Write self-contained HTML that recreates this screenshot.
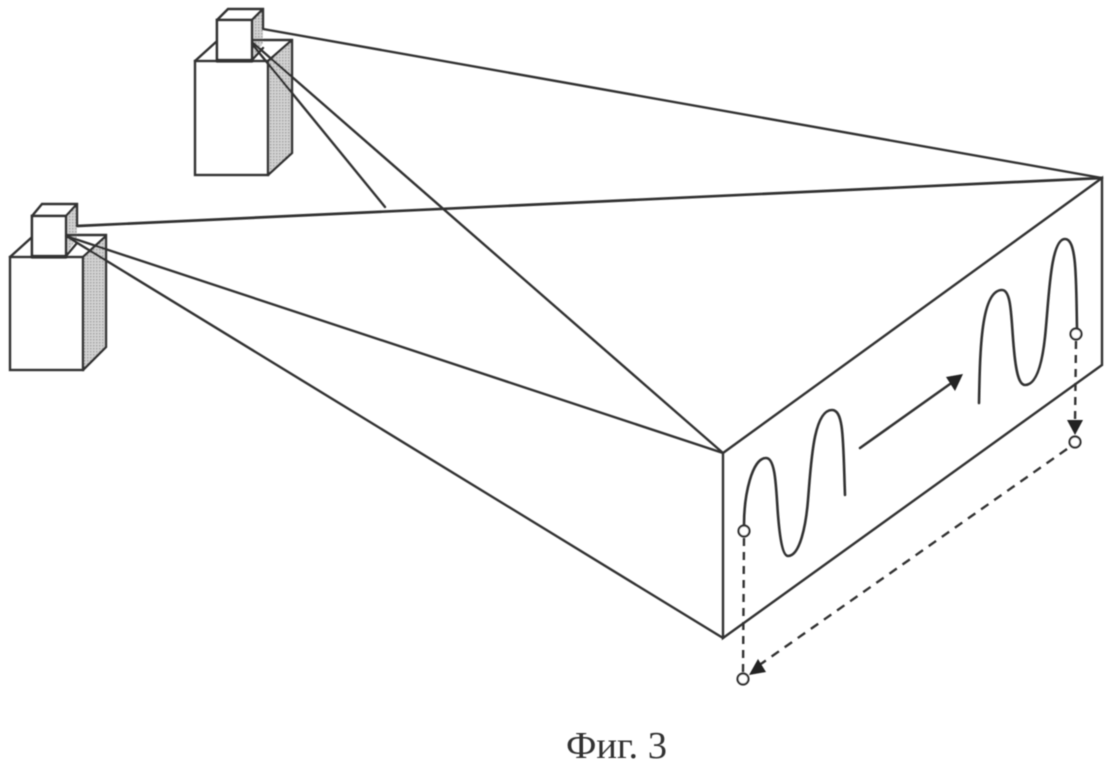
<!DOCTYPE html>
<html>
<head>
<meta charset="utf-8">
<style>
html,body{margin:0;padding:0;background:#fff;}
svg{display:block;}
</style>
</head>
<body>
<svg width="1114" height="771" viewBox="0 0 1114 771" xmlns="http://www.w3.org/2000/svg">
<defs>
<pattern id="d" width="3" height="3" patternUnits="userSpaceOnUse">
<rect width="3" height="3" fill="#d2d2d2"/>
<rect x="0" y="0" width="1.5" height="1.5" fill="#a4a4a4"/>
</pattern>
<filter id="b" filterUnits="userSpaceOnUse" x="0" y="0" width="1114" height="771"><feGaussianBlur stdDeviation="0.45"/></filter>
</defs>
<rect width="1114" height="771" fill="#fff"/>
<g filter="url(#b)">
<g fill="none" stroke="#333" stroke-width="2.4" stroke-linejoin="miter" stroke-linecap="round">
<!-- top camera -->
<polygon points="268,61 292,40 292,153 268,175" fill="url(#d)" stroke="none"/>
<polygon points="252,20 263,9 263,43 252,60" fill="url(#d)" stroke="none"/>
<path d="M195,61 L216,42 M252,40 H292 V153 L268,175 M268,61 L292,40"/>
<rect x="195" y="61" width="73" height="114"/>
<rect x="217" y="20" width="35" height="40" fill="#fff" stroke-width="2.7"/>
<path d="M217,20 L228,9 H263 V29 M252,20 L263,9 M252,60 L263,48"/>
<path d="M217,61 H252" stroke-width="3.2"/>

<!-- left camera -->
<polygon points="83,257 106,236 106,347 83,370" fill="url(#d)" stroke="none"/>
<polygon points="66,216 77,204 77,238 66,255" fill="url(#d)" stroke="none"/>
<path d="M10,257 L31,238 M66,235 H106 V347 L83,370 M83,257 L106,236"/>
<rect x="10" y="257" width="73" height="113"/>
<rect x="32" y="216" width="34" height="40" fill="#fff" stroke-width="2.7"/>
<path d="M32,216 L42,204 H77 V226 M66,216 L77,204 M66,256 L77,243"/>
<path d="M32,257 H66" stroke-width="3.2"/>

<!-- rays -->
<path d="M263,29 L1102,178"/>
<path d="M77,226 L1102,178" stroke-width="2.7"/>
<path d="M252,42 L723,453"/>
<path d="M252,44 L385,207"/>
<path d="M66,236 L723,453"/>
<path d="M66,236 L723,638"/>

<!-- big box -->
<path d="M723,453 L1102,178 V365 L723,638 Z"/>

<!-- curves -->
<path d="M744,525 C744,495 752,458 766,458 C776,458 776,490 778,515 C780,540 783,556 788,556 C800,556 806,525 808,500 C811,465 813,410 832,410 C844,410 843,440 845,495" stroke-width="2.6"/>
<path d="M979,403 C980,350 981,290 1002,290 C1012,290 1011,320 1014,350 C1016,372 1019,385 1025,385 C1036,385 1042,365 1045,337 C1049,300 1050,239 1065,239 C1077,239 1076,280 1077,328" stroke-width="2.6"/>

<!-- arrow -->
<path d="M860,448 L950,384" stroke-width="2.6"/>

<!-- dashed -->
<path d="M744,538 L743,673" stroke-dasharray="8 6" stroke-linecap="butt" stroke-width="2.4"/>
<path d="M1076,341 L1075,424" stroke-dasharray="8 6" stroke-linecap="butt" stroke-width="2.4"/>
<path d="M1067,449 L758,666" stroke-dasharray="9 7" stroke-linecap="butt" stroke-width="2.4"/>
</g>
<polygon points="963,374 946,377 955,391" fill="#222"/>
<polygon points="1075,435 1067,420 1083,420" fill="#222"/>
<polygon points="749,675 758,659 766,672" fill="#222"/>
<g fill="#fff" stroke="#333" stroke-width="2.2">
<circle cx="744" cy="531" r="5.5"/>
<circle cx="743" cy="679" r="5.5"/>
<circle cx="1076" cy="334" r="5.5"/>
<circle cx="1075" cy="442" r="5.5"/>
</g>
<text x="566" y="758" font-family="'Liberation Serif',serif" font-size="38.5" fill="#333">Фиг. 3</text>
</g>
</svg>
</body>
</html>
